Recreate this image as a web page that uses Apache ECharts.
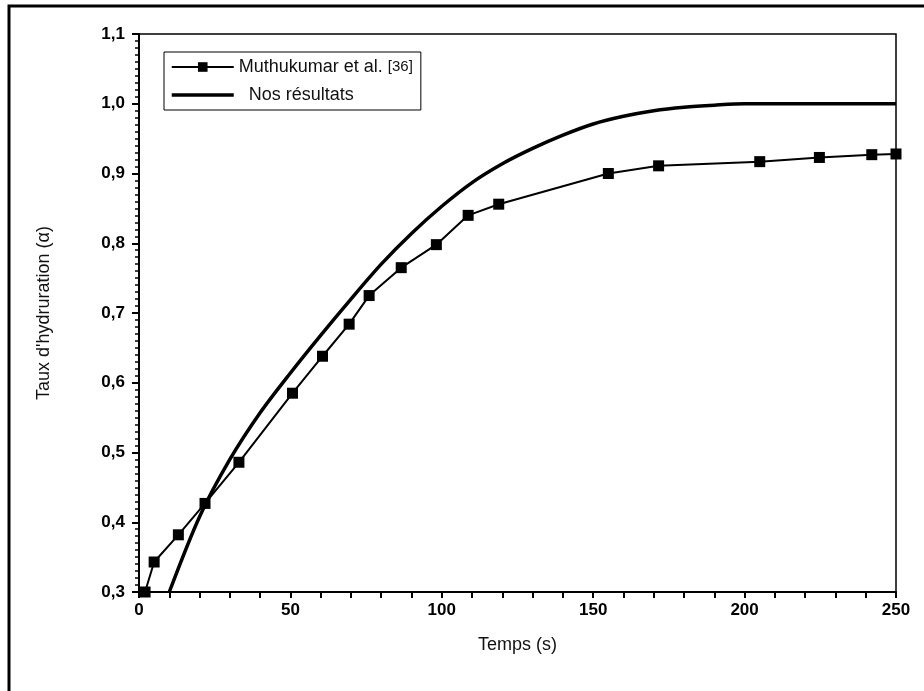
<!DOCTYPE html>
<html>
<head>
<meta charset="utf-8">
<script src="https://cdn.jsdelivr.net/npm/echarts@6/dist/echarts.min.js"></script>
<style>
  html, body { margin: 0; padding: 0; background: #fff; }
  #chart { width: 924px; height: 691px; }
</style>
</head>
<body>
<div id="chart"></div>
<script>
// Muthukumar et al. [36] — measured points (time in s, hydration degree)
const expTime = [2, 5, 13, 21.8, 33, 50.7, 60.6, 69.4, 76, 86.6, 98.2, 108.7, 118.8, 155, 171.6, 205, 224.7, 242, 250];
const expAlpha = [0.30, 0.343, 0.382, 0.427, 0.486, 0.585, 0.638, 0.684, 0.725, 0.765, 0.798, 0.84, 0.856, 0.900, 0.911, 0.917, 0.923, 0.927, 0.928];

// Nos résultats — model curve
const modelTime = [10, 20, 30, 40, 50, 60, 70, 80, 90, 100, 110, 120, 130, 140, 150, 160, 170, 180, 190, 200, 210, 220, 230, 240, 250];
const modelAlpha = [0.30, 0.408, 0.49, 0.557, 0.614, 0.668, 0.72, 0.77, 0.814, 0.853, 0.887, 0.914, 0.936, 0.955, 0.971, 0.982, 0.99, 0.995, 0.998, 1.0, 1.0, 1.0, 1.0, 1.0, 1.0];

const seriesNames = ['Muthukumar et al. [36]', 'Nos résultats'];

const zip = (xs, ys) => xs.map((x, i) => [x, ys[i]]);

const chart = echarts.init(document.getElementById('chart'));

const option = {
  animation: false,
  backgroundColor: '#fff',
  textStyle: { fontFamily: 'Liberation Sans, Arial, sans-serif' },
  grid: { left: 139, right: 28, top: 34, bottom: 99, show: true, borderColor: '#000', borderWidth: 1.5 },
  legend: {
    orient: 'vertical',
    left: 164,
    top: 52,
    padding: [6, 8, 6, 6],
    itemGap: 10,
    itemWidth: 62,
    itemHeight: 12,
    borderColor: '#000',
    borderWidth: 1,
    borderRadius: 0,
    data: [
      { name: seriesNames[0] },
      { name: seriesNames[1], itemStyle: { opacity: 0 }, lineStyle: { width: 3.5 } }
    ],
    textStyle: {
      color: '#111',
      fontSize: 18,
      rich: { small: { fontSize: 15, color: '#111' } }
    },
    formatter: name => name === seriesNames[0]
      ? 'Muthukumar et al. {small|[36]}'
      : '  ' + name
  },
  xAxis: {
    type: 'value',
    min: 0,
    max: 250,
    interval: 50,
    name: 'Temps (s)',
    nameLocation: 'middle',
    nameGap: 44,
    nameTextStyle: { fontSize: 18, color: '#111' },
    axisLine: { show: true, lineStyle: { color: '#000', width: 2 } },
    axisTick: { show: true, inside: false, length: 6, lineStyle: { color: '#000', width: 2 } },
    minorTick: { show: true, splitNumber: 5, length: 6, lineStyle: { color: '#000', width: 2 } },
    axisLabel: { fontSize: 17, fontWeight: 'bold', color: '#000', margin: 10 },
    splitLine: { show: false }
  },
  yAxis: {
    type: 'value',
    min: 0.3,
    max: 1.1,
    interval: 0.1,
    name: "Taux d'hydruration (\u03b1)",
    nameLocation: 'middle',
    nameGap: 86,
    nameTextStyle: { fontSize: 18, color: '#111' },
    axisLine: { show: true, lineStyle: { color: '#000', width: 2 } },
    axisTick: { show: true, inside: false, length: 7, lineStyle: { color: '#000', width: 2 } },
    minorTick: { show: true, splitNumber: 10, length: 4, lineStyle: { color: '#000', width: 1.5 } },
    axisLabel: {
      fontSize: 17,
      fontWeight: 'bold',
      color: '#000',
      margin: 14,
      formatter: v => v.toFixed(1).replace('.', ',')
    },
    splitLine: { show: false }
  },
  graphic: [
    {
      type: 'polyline',
      shape: { points: [[9, 691], [9, 6], [924, 6]] },
      style: { stroke: '#000', lineWidth: 3, fill: null },
      silent: true
    }
  ],
  series: [
    {
      name: seriesNames[0],
      type: 'line',
      data: zip(expTime, expAlpha),
      symbol: 'rect',
      symbolSize: 11,
      showSymbol: true,
      clip: true,
      lineStyle: { color: '#000', width: 2 },
      itemStyle: { color: '#000' },
      z: 3
    },
    {
      name: seriesNames[1],
      type: 'line',
      data: zip(modelTime, modelAlpha),
      smooth: 0.3,
      symbol: 'none',
      showSymbol: false,
      clip: true,
      lineStyle: { color: '#000', width: 3.5 },
      itemStyle: { color: '#000' },
      z: 2
    }
  ]
};

chart.setOption(option);
</script>
</body>
</html>
